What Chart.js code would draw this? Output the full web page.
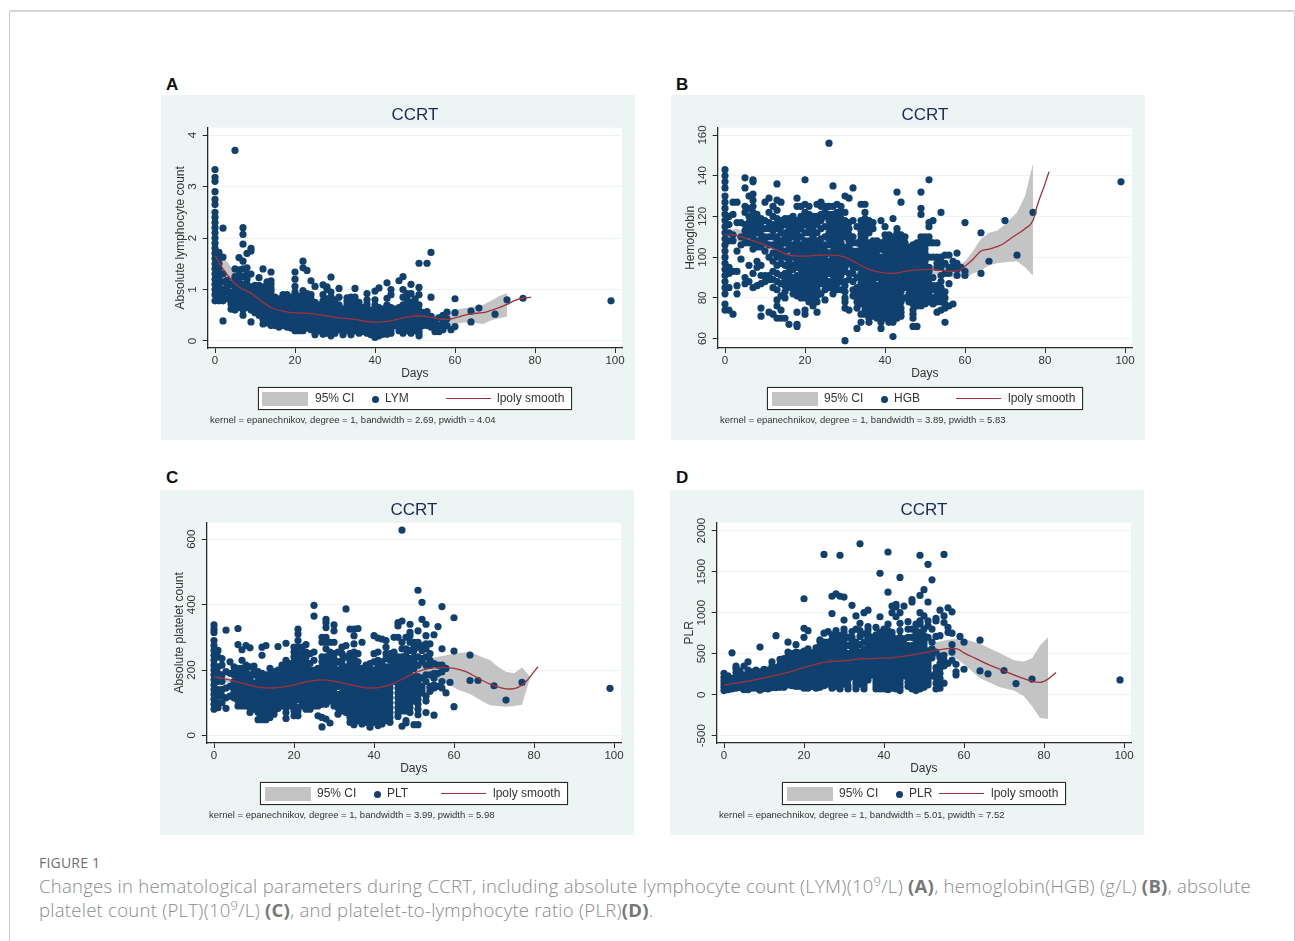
<!DOCTYPE html>
<html><head><meta charset="utf-8">
<script src="https://cdn.jsdelivr.net/npm/chart.js@4"></script>
<style>
html,body{margin:0;padding:0;background:#fff;width:1295px;height:941px;overflow:hidden;font-family:"Liberation Sans",Arial,sans-serif}
.frame{position:absolute;left:9px;top:10px;width:1284px;height:960px;border:1px solid #cfcfcf;border-top:2px solid #d4d4d4;border-radius:2px}
.panel{position:absolute;width:474px;height:345px;background:#edf4f4}
canvas{display:block}
.tag{position:absolute;font-weight:700;font-size:17px;color:#111;line-height:20px}
.lg{position:absolute;height:21px;background:#fff;border:1px solid #2a2a2a;box-shadow:0 0 1px #777}
.lgt{position:absolute;font-size:12px;line-height:14px;color:#333;white-space:nowrap}
.sw{position:absolute;background:#c4c4c4;height:14px;width:46px}
.dot{position:absolute;width:7px;height:7px;border-radius:50%;background:#10406e}
.ln{position:absolute;height:1px;background:#a0323a;width:45px}
.note{position:absolute;font-size:9.5px;line-height:11px;color:#333;white-space:nowrap}
.fig{position:absolute;left:39px;top:855px;font:500 14px/16px "Open Sans",sans-serif;color:#6e6e6e;letter-spacing:.2px}
.cap{position:absolute;left:39px;font:300 18.5px/24px "Open Sans",sans-serif;color:#8b8b8b;white-space:nowrap;letter-spacing:.27px}
.cap b{font-weight:700;color:#777}
.cap sup{font-size:13px;line-height:0}
</style></head><body>
<div class="frame"></div>
<div class="tag" style="left:166px;top:75px">A</div>
<div class="tag" style="left:676px;top:75px">B</div>
<div class="tag" style="left:166px;top:468px">C</div>
<div class="tag" style="left:676px;top:468px">D</div>
<div class="panel" style="left:161px;top:95px"><canvas id="chartA" width="474" height="345"></canvas></div>
<div class="panel" style="left:671px;top:95px"><canvas id="chartB" width="474" height="345"></canvas></div>
<div class="panel" style="left:160px;top:490px"><canvas id="chartC" width="474" height="345"></canvas></div>
<div class="panel" style="left:670px;top:490px"><canvas id="chartD" width="474" height="345"></canvas></div>
<div id="legends"></div>
<div class="fig">FIGURE 1</div>
<div class="cap" style="top:874px">Changes in hematological parameters during CCRT, including absolute lymphocyte count (LYM)(10<sup>9</sup>/L) <b>(A)</b>, hemoglobin(HGB) (g/L) <b>(B)</b>, absolute</div>
<div class="cap" style="top:898px">platelet count (PLT)(10<sup>9</sup>/L) <b>(C)</b>, and platelet-to-lymphocyte ratio (PLR)<b>(D)</b>.</div>
<script>
const sampleDays=[0,1,2,3,4,5,6,7,8,9,10,11,12,13,14,15,16,17,18,19,20,21,22,23,24,25,26,27,28,29,30,31,32,33,34,35,36,37,38,39,40,41,42,43,44,45,46,47,48,49,50,51,52,53,54,55,56,57,58,59,60,64,66,70,73,77,99];
const denseDays=[5,6,7,8,9,10,11,12,13,14,15,16,17,18,19,20,21,22,23,24,25,26,27,28,29,30,31,32,33,34,35,36,37,38,39,40,41,42,43,44,45,46,47,48,49,50,51,52,53,54,55];
const xTicks=[0,20,40,60,80,100];

const lymValues=[
[.78,.9,1,1.1,1.2,1.3,1.4,1.5,1.6,1.7,1.8,1.9,2,2.1,2.2,2.3,2.4,2.5,2.65,2.75,2.9,3.1,3.18,3.33],
[.78,.9,1,1.1,1.2,1.3,1.4,1.5,1.6,1.72],[.39,.78,.9,1,1.15,1.3,1.63,2.19],[.82,.95,1.05,1.18],[.62,.72,.85,.95,1.1],
[.6,.7,.8,.95,1.1,1.25,1.4,3.7],[.65,.75,.9,1.05,1.2,1.38,1.62],[.5,.6,.7,.8,.9,1,1.1,1.25,1.4,1.55,1.88,2.07,2.2],[.65,.75,.85,1,1.2,1.42,1.7],[.37,.7,.8,.95,1.3,1.75,1.8],
[.55,.7,.8,.9,1.08],[.5,.6,.7,.85,1.08,1.23],[.33,.5,.6,.75,.9,1.05,1.4],[.35,.5,.6,.7,.8,.9,1,1.15],[.3,.4,.5,.6,.7,.8,.9,1.02,1.17,1.34],
[.3,.4,.5,.6,.7,.85],[.27,.35,.45,.55,.65,.75],[.3,.4,.5,.6,.7,.9],[.27,.35,.45,.55,.65,.75,.9],[.3,.4,.5,.6,.7,.85],
[.2,.3,.4,.5,.6,.7,.8,.95,1.06,1.2,1.34],[.2,.3,.4,.5,.6,.75,.87],[.2,.3,.42,.55,.68,.8,.98,1.42,1.55],[.25,.4,.52,.65,.78,.92,1.37],[.3,.45,.6,.75,.9,1.17],
[.12,.25,.35,.45,.6,.75,1.06],[.25,.35,.5,.62],[.13,.22,.32,.42,.55,.65,.78,.9,1.09],[.15,.25,.35,.45,.55,.7,.82,1,1.05],[.1,.2,.3,.4,.5,.6,.7,.85,.95,1.24],
[.15,.25,.35,.45,.55,.65,.8],[.3,.45,.6,.85,1.02],[.12,.25,.35,.45,.55],[.2,.3,.4,.5,.6,.7,.84],[.12,.25,.38,.5,.62,.75,.85],
[.2,.3,.4,.5,.65,.85,1.02],[.15,.25,.35,.48,.6,.75],[.18,.3,.42,.55,.65],[.15,.28,.4,.5,.65,.8,.92],[.12,.22,.32,.45,.55],
[.07,.15,.25,.35,.45,.6,.8,.97],[.1,.2,.3,.4,.5,.65,1.03],[.13,.25,.35,.5,.62],[.13,.25,.38,.5,.7,.83,1.13],[.15,.3,.42,.55,.65,.9,1],
[.3,.4,.5,.62],[.2,.32,.45,.58,.65,1.17],[.15,.3,.4,.5,.6,.85,1,1.25],[.2,.3,.42,.55,.65,.85,.92],[.15,.3,.4,.5,.62,.75,.92,1.1],
[.2,.3,.45,.6,.72,.82],[.1,.22,.35,.5,.7,.9,1.04,1.51],[.3,.42,.55],[.3,.4,.57,1.51],[.27,.4,.48,.85,1.72],
[.18,.3,.4],[.18,.3,.45],[.22,.35,.5],[.3,.43,.56],[.22],[.28,.55,.82],[.37,.58],[.64],[.52],[.8],[.83],[.78]];
const lymDense=[
[.75,.88,1.02,1.2],[.7,.82,.98,1.12,1.3],[.65,.75,.85,.95,1.05],[.7,.8,.92,1.1,1.3],[.6,.75,.88,1.05],
[.62,.75,.85,1],[.55,.65,.78,.95],[.42,.55,.68,.82,.98],[.42,.55,.65,.75,.85,1.08],[.35,.45,.55,.65,.75,.85,.97,1.1],
[.35,.45,.55,.65,.78],[.3,.4,.5,.6,.7,.82],[.35,.45,.55,.65,.8],[.3,.4,.5,.6,.7,.82],[.25,.35,.45,.55,.65,.78],
[.25,.35,.45,.55,.65,.75,.88],[.25,.35,.45,.55,.67,.8],[.25,.35,.48,.62,.74,.88],[.32,.46,.58,.72,.85],[.22,.38,.52,.68,.82],
[.18,.3,.4,.52,.68],[.2,.3,.42,.56,.7],[.18,.27,.37,.48,.6,.72],[.2,.3,.4,.5,.62,.76],[.15,.25,.35,.45,.55,.65,.78],
[.2,.3,.4,.5,.6,.72],[.22,.38,.52,.7],[.18,.3,.4,.5,.62],[.25,.35,.45,.55,.65,.77],[.18,.32,.44,.56,.68,.8],
[.25,.35,.45,.57,.75],[.2,.3,.42,.54,.67],[.24,.36,.48,.6],[.22,.34,.45,.57,.72],[.17,.27,.38,.5,.6],
[.11,.2,.3,.4,.52,.7],[.15,.25,.35,.45,.57],[.19,.3,.42,.56],[.19,.31,.44,.6,.68],[.22,.36,.48,.6],
[.35,.45,.56],[.26,.38,.52,.62],[.22,.35,.45,.55,.7],[.25,.36,.48,.6,.75],[.22,.35,.45,.56,.68],
[.25,.37,.52,.66,.78],[.16,.28,.42,.6],[.36,.48],[.35,.48],[.33,.43],[.24,.35]];
const lymYTicks=[0,1,2,3,4];
const lymSmoothX=[0.1,2,4,6,9,12,14,17,19,23,27,30,35,40,43,46,49,51,54,56,58,61,64,67,70,73,75,77,79];
const lymSmoothY=[1.65,1.4,1.2,1.05,.93,.75,.65,.58,.55,.54,.5,.46,.42,.36,.38,.43,.48,.49,.46,.43,.42,.47,.53,.55,.62,.71,.79,.83,.85];
const lymBandX=[0,3,6,10,14,20,30,40,50,56,58,60,62,64,67,69,71,73];
const lymBandHigh=[1.85,1.55,1.22,1,.72,.6,.5,.42,.54,.52,.52,.6,.63,.66,.7,.78,.87,.93];
const lymBandLow=[1.45,1.2,.95,.8,.58,.5,.42,.3,.42,.36,.3,.32,.36,.36,.33,.4,.44,.47];

const hgbValues=[
[74,77,82,85,88,91,94,97,100,103,106,109,112,115,118,121,124,127,130,134,137,140,143],
[74,85,92,95,108,112,116,120],[72,93,108,111,121,127],[82,86,93,103,117,127],[99,106,110,117],
[87,90,107,113,125,134,139],[88,96,107,114,120,130],[85,92,104,110,116,122,128,131,137,138],[86,95,98,105,112,118],[71,75,87,91,105,114,119],
[91,103,110,118,127],[73,91,106,117,129],[72,89,93,102,110,116,125],[70,76,79,88,92,100,105,110,114,123,128,136],[70,74,81,87,97,103,108,112,127],
[70,80,86,92,100,107,112,119],[67,85,90,95,100,104,109,114,119],[85,88,96,103,110,116,120],[66,67,73,81,86,91,98,104,108,112,118,125,129],[83,88,94,100,106,114,120],
[72,74,80,86,91,96,100,104,108,116,122,126,138],[78,84,88,92,96,100,104,108,114,118],[76,82,87,91,95,99,103,107,113,117],[73,78,86,90,94,98,104,108,116,120,126],[87,91,96,106,114,121,127],
[84,89,93,98,103,110,120,125],[85,92,98,106,112,121,125,156],[82,88,93,98,103,108,113,117,121,135],[84,89,95,100,106,110,114,118,122,126],[88,94,100,105,110,115,119,125],
[59,75,78,83,88,95,100,105,113,118,122,130],[74,89,97,102,108,114,129],[84,92,98,103,110,118,134],[65,78,82,85,95,100],[68,80,84,90,95,101,106,111,115,126],
[72,76,80,85,90,95,100,105,110,116,122,126],[68,72,78,83,88,93,98,104,112,118],[74,78,82,86,90,96,101,106,114],[72,76,80,84,92,98,103,108],[65,70,78,82,87,92,97,104,118],
[70,75,80,85,90,96,100,106,111,115],[68,73,78,82,88,94,100,105,111],[61,68,72,78,84,90,96,101,107,119],[70,74,79,84,89,95,100,106,110,114,132],[71,75,80,86,92,98,106,111,127],
[85,90,95,100,105,110],[78,82,88,94,100,105],[66,70,74,80,85,90,96,100,104],[66,78,83,88,93,98,103,107],[78,82,87,92,97,102,106,110,121,124,132],
[77,82,86,92,96,100,104,108,110],[78,82,87,93,107,115,117,138],[80,84,107,118],[73,78,83,86,97,100,107],[74,81,85,91,97,122],
[68,77,80,97,101],[76,87,92,95,101],[77,95,98],[91,94,97,102],[95],[91,93,117],[92,112],[98],[118],[101],[122],[137]];
const hgbDense=[
[110,116,122],[111,117,124],[107,113,119,125],[108,115,121],[96,108,111,117],
[88,107,114],[89,100,110,114,122],[85,98,106,113,120],[84,96,102,108,116,119],[91,100,106,115,118],
[83,89,96,103,110,116],[88,92,98,106,112,117],[82,90,94,100,106,113,118],[84,89,95,101,106,110,115],[80,86,91,97,103,110,117,125],
[83,89,94,98,102,106,112,119],[81,86,90,94,98,102,106,112,116,121,125],[79,85,89,93,97,101,105,110,115,120],[81,84,88,92,96,101,106,112,118],[82,89,94,99,103,109,118,125],
[79,87,91,96,101,106,115,122],[88,95,102,109,115,118,125],[85,91,96,100,106,111,115,119,125],[87,92,98,103,108,112,116,120],[84,91,97,102,107,113,117,122],
[80,86,93,98,103,110,116],[92,99,105,111,117],[81,88,95,100,107],[75,80,84,90,98,103,107,115],[72,77,82,87,92,98,103,109,113,118],
[74,78,83,87,92,98,103,108,113,119],[70,75,80,85,90,96,101,107,115],[71,76,80,84,88,93,98,103,108,117],[70,74,78,82,86,90,95,100,105],[68,73,76,80,84,90,95,100,107],
[72,77,82,87,93,98,103,108],[70,75,80,85,91,97,102,108],[70,75,81,87,93,98,104,110],[72,76,81,87,92,98,103,108,112],[73,78,83,89,95,100,103,108],
[80,88,92,98,103,107],[80,85,91,97,103],[72,77,82,88,93,98,102,106],[76,81,86,91,96,100,105],[76,80,85,90,95,100,104,108],
[80,84,89,94,98,102,106],[80,85,90,95,100,108,110],[77,86,90,100],[80,81,95],[78,83,88,95,100],[75,83,92]];
const hgbYTicks=[60,80,100,120,140,160];
const hgbSmoothX=[0.1,2,4,7,10,13,16,20,24,27,30,33,36,39,42,45,48,51,54,57,59,60,62,64,66,69,72,75,77,78,80,81];
const hgbSmoothY=[111,111,110,108,106,103.5,101,100.5,101,101,100,97,94,92.5,92,93,93.8,94,93.5,93,94,95.5,99,103,104,106,110,114,118,125,136,142];
const hgbBandX=[0,3,8,16,24,30,36,42,48,54,58,60,62,64,66,68,70,73,75,77];
const hgbBandHigh=[113,114,110,103,103,102,96,94,96,96,95,98,103,109,112,113,116,122,130,146];
const hgbBandLow=[109,108,106,99,99,98,92,90,91.5,91.5,90,90,92,93.5,96,97,97.5,98,95,91];

const pltValues=[
[80,95,110,125,140,155,170,185,200,215,230,245,260,275,290,315,325,338],
[85,100,120,140,165,190,210,240,260],[100,120,140,165,185,215,235],[83,115,145,195,322],[120,150,190,225],
[125,145,185,210],[90,105,120,140,175,205,278,327],[90,110,130,155,190,230,262],[100,125,160,215,275],[70,95,120,170,210,268],
[90,115,145,185,212],[48,85,110,130,165,195],[48,75,100,125,150,175,245,270],[48,70,90,115,135,160,185,275],[55,80,105,130,150,170,205],
[75,100,125,150,180],[82,110,130,150,185,272],[105,130,155,185,200],[52,70,85,115,140,165,195,230,282],[100,125,150,175,205],
[60,75,100,120,145,170,200,225,240,270],[60,75,125,145,170,195,220,250,290,310,325],[100,125,150,170,195,230,270],[90,115,140,165,195,225,255,278],[90,110,135,160,190,200],
[120,145,175,200,255,365,398],[60,110,140,165,195],[26,55,110,130,155,180,210,240,285,300],[50,110,130,155,185,220,265,300,330,345,355],[38,120,145,170,195,230,255,285],
[110,130,155,180,215,250,320,338],[65,105,150,175,200,255],[75,130,170,200,230,270],[85,115,150,180,210,275,387],[40,55,90,125,165,190,225,250,325],
[33,70,100,130,160,190,215,255,280,305,325],[60,85,115,145,175,205,250,327],[35,65,95,125,160,190,285],[40,75,105,135,165,200],[25,45,70,100,130,160,190,220],
[40,65,95,125,155,185,250,305],[30,55,85,115,145,180,205,230,255,298],[35,60,90,120,150,185,210,295],[45,75,105,135,165,195,235,270,290],[40,55,85,115,145,175,230,250],
[165,195,215,240,300],[58,85,115,145,170,205,240,335,345],[28,75,100,130,160,190,225,265,350,628],[38,45,90,110,140,170,205,245,300],[70,100,135,170,200,235,285,315,340],
[33,120,150,180,225,260,285],[33,63,95,125,160,215,285,320,444],[130,150,235,275,355,407],[70,105,185,240,280,305,340],[135,150,215,250,280],
[62,145,175,220,308],[150,190,215,333],[145,165,195,215,265,394],[130,205],[162],[88,258,360],[168,246],[168],[152],[108],[162],[144]];
const pltDense=[
[115,135,165,195],[110,130,160,190],[100,120,145,170,205],[90,115,140,175,195],[85,110,135,155,185],
[80,105,130,160,200],[70,95,120,150,180],[60,90,115,140,165,190],[60,80,105,125,150,175],[68,95,120,140,160,185],
[65,90,115,135,165,195],[95,120,140,170,200],[90,115,140,170,215],[100,130,155,180,210],[90,115,140,165,190,220],
[85,110,135,160,185,215,255],[85,110,135,160,185,210,240,270],[90,115,140,160,185,215,250],[80,105,130,155,180,210,240],[80,100,125,150,175,220,250],
[90,110,135,160,190,230],[90,125,155,180,205],[95,120,145,170,195,225],[95,120,145,170,205,240,285],[105,135,160,185,215,245],
[90,120,145,170,200,235,285],[85,125,165,190,225],[90,110,150,185,215,250],[70,100,135,165,195,240],[70,110,145,180,210,240],
[50,85,115,145,175,205,235],[45,70,100,130,160,190,225],[50,80,110,140,175,205],[55,90,120,150,180,215],[35,55,85,115,145,175,205],
[55,80,110,140,170,200,225],[40,70,100,130,160,190,215],[45,75,105,135,165,195,225],[60,90,120,150,180,210,250],[70,100,130,160,190,210,240],
[180,205,225,255],[70,100,130,160,190,225,300],[90,115,145,175,205,240,285],[75,100,125,155,190,225,265],[85,120,150,185,220,260,305],
[105,135,165,205,240,275],[80,110,140,180,240,270],[140,175,225,260],[120,165,215,265],[145,185,230],[155,190]];
const pltYTicks=[0,200,400,600];
const pltSmoothX=[0.1,3,7,11,14,17,21,24,27,30,33,36,39,42,45,48,51,54,57,60,63,66,69,72,74,76,78,80,81];
const pltSmoothY=[180,172,160,148,145,148,158,166,170,166,158,150,145,148,160,178,195,205,208,205,195,175,157,145,142,147,165,195,210];
const pltBandX=[0,10,20,30,40,50,52,55,58,61,64,67,69,71,73,75,77,79];
const pltBandHigh=[188,155,165,173,153,205,225,238,245,252,255,240,231,210,195,190,208,180];
const pltBandLow=[172,140,150,160,137,165,170,170,160,140,127,105,92,90,88,90,94,175];

const plrValues=[
[50,90,130,170,210,260],[60,100,140,180,230],[70,110,150,200,510],[80,120,165,210,270,320,350],[85,130,180,230,290],
[60,100,145,190,240,350],[60,105,150,200,300,400],[80,125,170,225,280],[80,125,175,240,300],[55,100,150,210,280,580],
[100,150,200,250,310],[70,115,170,225],[85,135,190,250,310,400],[85,140,200,250,330,720],[90,140,190,250,320,430],
[90,145,200,260,330,440],[120,170,230,290,350,470,640],[110,165,220,280,350,500],[130,190,250,310,380,520,610],[130,190,250,320,420,510],
[80,130,190,250,310,370,440,530,700,810,1170],[80,130,190,250,320,380,450,520,780],[100,170,240,310,370,440,510],[80,140,210,280,350,430,490,570],[90,150,220,290,360,440,550,650,670],
[110,170,240,310,390,470,560,640,750,1710],[130,200,270,350,420,500,590,770],[80,150,220,300,370,440,520,620,730,990,1200],[100,170,250,330,410,490,560,650,780,1230],[70,150,240,320,400,480,580,720,1200,1700],
[130,210,290,370,450,530,660,760,800,910,1190],[70],[220,290,370,450,520,640,770,1090],[70,150,240,320,400,490,590,800,960],[130,210,290,370,450,520,710,870,1840],
[70,150,230,310,390,470,550,740,1000],[180,250,330,410,490,580,690,790,830,1030],[240,320,400,470,630],[70,150,230,310,390,470,550,650,820],[70,130,210,290,370,450,530,610,950,1480],
[70,150,250,330,420,500,580,670,800],[60,140,220,300,380,460,540,620,700,860,1250,1740],[120,200,280,360,440,520,600,680,760,1000,1080],[70,150,230,310,390,470,550,630,950,1100,1070],[50,130,210,290,370,450,530,630,700,870,1000,1430],
[230,310,390,480,570,680,1080],[100,200,320,440,530,600,800,890],[70,150,230,310,390,460,530,800,1130,1160],[50,130,210,290,370,450,530,620,700,780],[70,150,230,310,390,470,550,630,700,760,860,900,1000,1210,1700],
[90,170,250,330,410,490,570,650,720,960,1280],[120,200,280,360,440,530,840,900,1130,1590],[230,480,500,640,1400],[70,210,330,710,900,930],[80,200,320,450,720,1030],
[140,350,480,880,960,1710],[380,760,820,1060],[420,520,610,750,1010],[240,280,370],[710],[310,640],[290,665],[255],[295],[135],[190],[180]];
const plrDense=[
[80,125,170,215],[85,130,175,225],[100,150,200,250],[105,150,210,270],[80,125,180,245],
[75,125,175,225,280],[90,140,200,260,300],[110,165,220,280,350],[110,170,225,290],[115,165,220,285,370],
[115,175,230,295,385],[145,200,260,320,410,520],[135,190,250,315,420,450],[100,160,220,280,345,440],[100,160,220,285,370,465],
[105,160,220,280,340,405,485],[105,160,220,285,350,415,485,560],[130,205,275,340,405,470],[110,175,245,315,390,455,530],[120,185,255,325,400,490,600],
[140,205,275,350,430,515,600],[165,235,310,385,460,545,640],[115,185,260,335,405,480,570,670],[135,210,290,370,450,525,600,700],[110,195,280,360,440,530,650],
[170,250,330,410,490,590,710],[110,180,260,340,420,500,600,700],[255,330,410,485,580,700],[110,195,280,360,445,540,640],[170,250,330,410,485,610,780],
[110,190,270,350,430,510,640],[215,290,370,450,530,630,740],[280,360,435,550,700],[110,190,270,350,430,510,600,730],[100,170,250,330,410,490,570,680,760],
[110,200,290,375,460,540,625,730],[100,180,260,340,420,500,580,660,780],[80,160,240,320,400,480,560,640,720],[110,190,270,350,430,510,590,680],[90,170,250,330,410,490,580,660,780],
[270,350,435,525,620],[150,260,380,485,565,700],[110,190,270,350,425,495,600,700],[90,170,250,330,410,490,575,660,740,860],[110,190,270,350,430,510,590,665],
[130,210,290,370,450,530,610,685,800],[160,240,320,400,485,700],[450,560,800],[140,270,520],[140,260,380,470],[420]];
const plrYTicks=[-500,0,500,1000,1500,2000];
const plrSmoothX=[0.1,3,6,9,12,15,18,21,24,27,30,33,36,39,42,45,48,51,54,57,58.5,60,63,66,69,72,75,77,79,81,83];
const plrSmoothY=[120,140,165,195,225,260,300,345,385,405,415,430,440,445,450,470,495,520,550,565,555,510,440,370,310,250,195,165,150,190,270];
const plrBandX=[0,10,20,30,40,50,53,56,58,60,64,69,72.5,75,77,79,81];
const plrBandHigh=[140,225,350,440,470,550,640,670,680,680,620,505,420,405,445,600,700];
const plrBandLow=[100,180,300,390,430,460,480,480,440,370,200,90,50,-20,-140,-285,-295];

const NAVY='#10406e',MAROON='#a0323a',GRAY='#c4c4c4',INK='#2a2a2a',PANEL='#edf4f4';
Chart.defaults.font.family='"Liberation Sans",Arial,sans-serif';
const toPoints=(xs,ys)=>xs.map((x,i)=>({x,y:ys[i]}));
const plotBg={id:'plotBg',beforeDraw(c){const a=c.chartArea;c.ctx.save();c.ctx.fillStyle='#fff';c.ctx.fillRect(a.left,a.top,a.right-a.left,a.bottom-a.top);c.ctx.restore();}};

function draw(id,name,yTitle,values,dense,yTicks,yMin,yMax,tickPad,smX,smY,bX,bHigh,bLow){
  const pts=[];
  sampleDays.forEach((d,i)=>values[i].forEach(v=>pts.push({x:d,y:v})));
  denseDays.forEach((d,i)=>dense[i].forEach(v=>pts.push({x:d,y:v})));
  new Chart(document.getElementById(id),{
    type:'scatter',
    data:{datasets:[
      {type:'line',label:'lpoly smooth',data:toPoints(smX,smY),borderColor:MAROON,borderWidth:1.3,pointRadius:0,fill:false,cubicInterpolationMode:'monotone',order:1},
      {type:'scatter',label:name,data:pts,backgroundColor:NAVY,borderWidth:0,pointRadius:3.6,order:2},
      {type:'line',label:'95% CI',data:toPoints(bX,bHigh),borderWidth:0,pointRadius:0,backgroundColor:GRAY,fill:'+1',tension:0,order:3},
      {type:'line',label:'95% CI low',data:toPoints(bX,bLow),borderWidth:0,pointRadius:0,fill:false,tension:0,order:4}
    ]},
    options:{
      responsive:false,animation:false,
      layout:{autoPadding:false,padding:{left:0,top:0,right:13,bottom:0}},
      plugins:{
        legend:{display:false},tooltip:{enabled:false},
        title:{display:true,fullSize:false,text:'CCRT',color:'#1c2a5a',font:{size:17,weight:'normal'},padding:{top:10.5,bottom:1.8}}
      },
      scales:{
        x:{type:'linear',min:-1.825,max:101.75,
          afterBuildTicks:s=>{s.ticks=xTicks.map(v=>({value:v}));},
          afterFit:s=>{s.height=92;},
          grid:{display:true,drawOnChartArea:false,tickColor:INK,tickLength:5,color:INK},
          border:{color:INK,width:1.3},
          ticks:{color:'#333',font:{size:11.5},padding:1,maxRotation:0,callback:v=>String(v)},
          title:{display:true,text:'Days',color:'#333',font:{size:12},padding:{top:0,bottom:59.5}}},
        y:{type:'linear',min:yMin,max:yMax,
          afterBuildTicks:s=>{s.ticks=yTicks.map(v=>({value:v}));},
          afterFit:s=>{s.width=46.7;},
          grid:{color:PANEL,lineWidth:1,tickColor:INK,tickLength:5},
          border:{color:INK,width:1.3},
          ticks:{color:'#333',font:{size:11.5},minRotation:90,maxRotation:90,crossAlign:'center',padding:tickPad,callback:v=>String(v)},
          title:{display:true,text:yTitle,color:'#333',font:{size:12},padding:{top:12.8,bottom:0}}}
      }
    },
    plugins:[plotBg]
  });
}
draw('chartA','LYM','Absolute lymphocyte count',lymValues,lymDense,lymYTicks,-0.136,4.142,6.4,lymSmoothX,lymSmoothY,lymBandX,lymBandHigh,lymBandLow);
draw('chartB','HGB','Hemoglobin',hgbValues,hgbDense,hgbYTicks,55.38,163.6,.1,hgbSmoothX,hgbSmoothY,hgbBandX,hgbBandHigh,hgbBandLow);
draw('chartC','PLT','Absolute platelet count',pltValues,pltDense,pltYTicks,-23.2,650.7,.1,pltSmoothX,pltSmoothY,pltBandX,pltBandHigh,pltBandLow);
draw('chartD','PLR','PLR',plrValues,plrDense,plrYTicks,-589,2097,-3,plrSmoothX,plrSmoothY,plrBandX,plrBandHigh,plrBandLow);

const legendRows=[
 {name:'LYM',box:[258,387,314],sw:262,t1:315,dot:375,t2:385,ln:446,t3:497,note:'kernel = epanechnikov, degree = 1, bandwidth = 2.69, pwidth = 4.04',nx:210,ny:414},
 {name:'HGB',box:[767,387,316],sw:772,t1:824,dot:884,t2:894,ln:956,t3:1008,note:'kernel = epanechnikov, degree = 1, bandwidth = 3.89, pwidth = 5.83',nx:720,ny:414},
 {name:'PLT',box:[260,782,308],sw:265,t1:317,dot:377,t2:387,ln:441,t3:493,note:'kernel = epanechnikov, degree = 1, bandwidth = 3.99, pwidth = 5.98',nx:209,ny:809},
 {name:'PLR',box:[782,782,284],sw:787,t1:839,dot:899,t2:909,ln:939,t3:991,note:'kernel = epanechnikov, degree = 1, bandwidth = 5.01, pwidth = 7.52',nx:719,ny:809}
];
const host=document.getElementById('legends');
legendRows.forEach(r=>{
  const [bx,by,bw]=r.box,cy=by+11;
  host.insertAdjacentHTML('beforeend',
   `<div class="lg" style="left:${bx}px;top:${by}px;width:${bw-2}px"></div>`+
   `<div class="sw" style="left:${r.sw}px;top:${cy-7+1}px"></div>`+
   `<div class="lgt" style="left:${r.t1}px;top:${cy-7}px">95% CI</div>`+
   `<div class="dot" style="left:${r.dot-3.5}px;top:${cy-2.5}px"></div>`+
   `<div class="lgt" style="left:${r.t2}px;top:${cy-7}px">${r.name}</div>`+
   `<div class="ln" style="left:${r.ln}px;top:${cy}px"></div>`+
   `<div class="lgt" style="left:${r.t3}px;top:${cy-7}px">lpoly smooth</div>`+
   `<div class="note" style="left:${r.nx}px;top:${r.ny}px">${r.note}</div>`);
});
</script>
</body></html>
